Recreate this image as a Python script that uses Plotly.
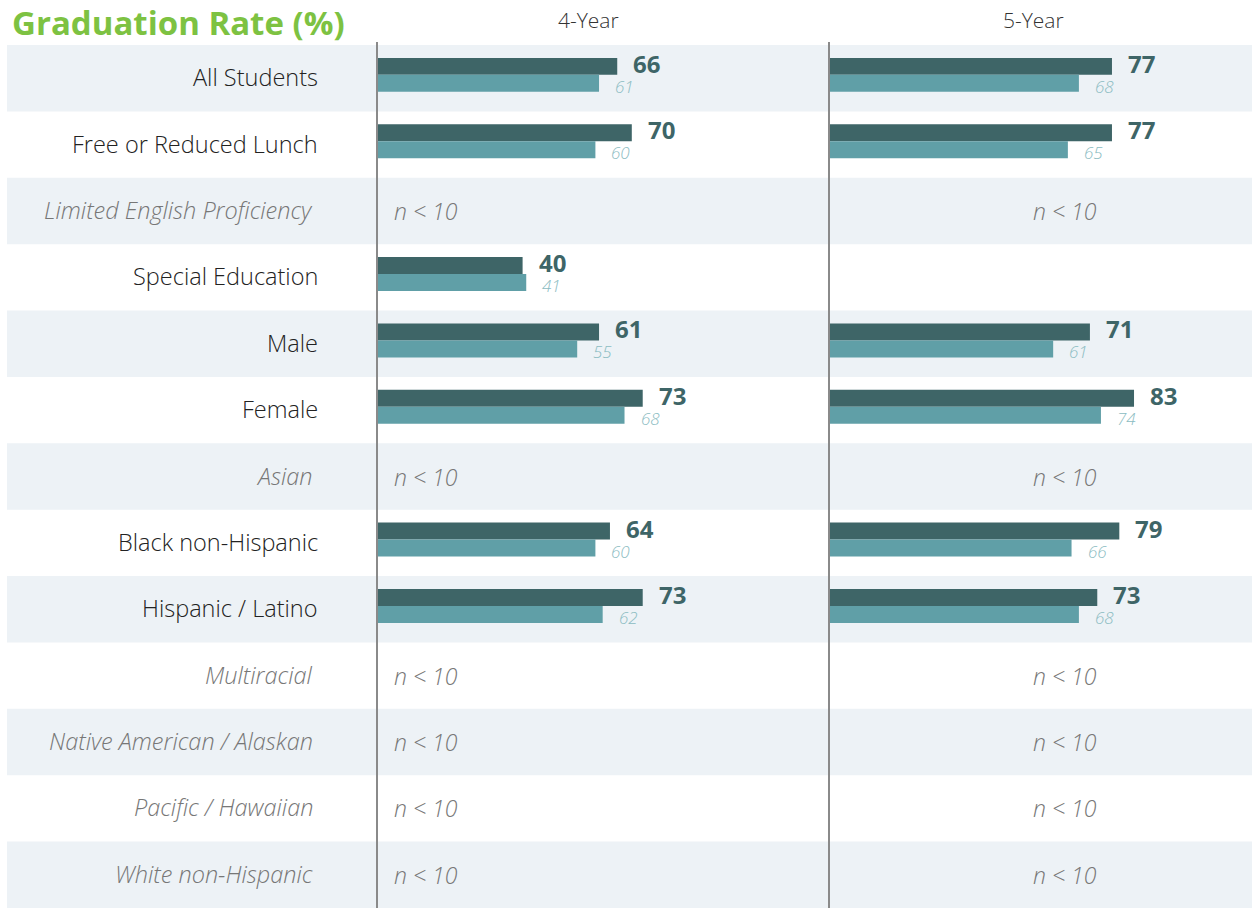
import plotly.graph_objects as go

# ---------------- data ----------------
categories = ["All Students", "Free or Reduced Lunch", "Limited English Proficiency",
              "Special Education", "Male", "Female", "Asian", "Black non-Hispanic",
              "Hispanic / Latino", "Multiracial", "Native American / Alaskan",
              "Pacific / Hawaiian", "White non-Hispanic"]
four_year_school = [66, 70, None, 40, 61, 73, None, 64, 73, None, None, None, None]
four_year_compare = [61, 60, None, 41, 55, 68, None, 60, 62, None, None, None, None]
five_year_school = [77, 77, None, None, 71, 83, None, 79, 73, None, None, None, None]
five_year_compare = [68, 65, None, None, 61, 74, None, 66, 68, None, None, None, None]
four_year_suppressed = [False, False, True, False, False, False, True, False, False, True, True, True, True]
five_year_suppressed = [False, False, True, False, False, False, True, False, False, True, True, True, True]
panel_titles = ["4-Year", "5-Year"]
chart_title = "Graduation Rate (%)"
suppressed_text = "n < 10"

# ---------------- styling ----------------
W, H = 1252, 910
FONT = "Open Sans"
DARK = "#3e6567"
LIGHT = "#609fa7"
LIGHT_TXT = "#8bbcc2"
BAND = "#edf2f6"
GREEN = "#7dc242"
GRAY_TXT = "#777777"
AXIS_LINE = "#8a8a8a"

rows = list(range(len(categories)))
bar_w = 0.256
dark_off = -0.306
light_off = -0.05
dark_c = dark_off + bar_w / 2
light_c = light_off + bar_w / 2

x1_dom = [377 / W, 829 / W]
x2_dom = [829 / W, 1.0]
x1_rng = [0, (829 - 377) / 3.64]
x2_rng = [0, (W - 829) / 3.675]

fig = go.Figure()

panels = [
    ("x", four_year_school, four_year_compare, four_year_suppressed, 15),
    ("x2", five_year_school, five_year_compare, five_year_suppressed, 202),
]

annotations = []
for axref, school, comp, supp, nshift in panels:
    fig.add_trace(go.Bar(orientation="h", x=school, y=rows, width=bar_w, offset=dark_off,
                         marker=dict(color=DARK, line=dict(width=0)),
                         xaxis=axref, yaxis="y", hoverinfo="skip"))
    fig.add_trace(go.Bar(orientation="h", x=comp, y=rows, width=bar_w, offset=light_off,
                         marker=dict(color=LIGHT, line=dict(width=0)),
                         xaxis=axref, yaxis="y", hoverinfo="skip"))
    for i in rows:
        if school[i] is not None:
            annotations.append(dict(x=school[i], y=i + dark_c, xref=axref, yref="y",
                                    text="<b>%s</b>" % school[i], showarrow=False, xanchor="left",
                                    yanchor="middle", xshift=14, yshift=3,
                                    font=dict(family=FONT, size=24, color=DARK)))
        if comp[i] is not None:
            annotations.append(dict(x=comp[i], y=i + light_c, xref=axref, yref="y",
                                    text="<i>%s</i>" % comp[i], showarrow=False, xanchor="left",
                                    yanchor="middle", xshift=14, yshift=-3,
                                    font=dict(family=FONT, size=17, color=LIGHT_TXT, weight=300)))
        if supp[i]:
            annotations.append(dict(x=0, y=i, xref=axref, yref="y",
                                    text="<i>%s</i>" % suppressed_text, showarrow=False,
                                    xanchor="left", yanchor="middle", xshift=nshift,
                                    font=dict(family=FONT, size=23, color=GRAY_TXT, weight=300)))

# category labels
for i, cat in enumerate(categories):
    if four_year_suppressed[i]:
        annotations.append(dict(x=315 / W, y=i, xref="paper", yref="y", text="<i>%s</i>" % cat,
                                showarrow=False, xanchor="right", yanchor="middle", yshift=1,
                                font=dict(family=FONT, size=23.5, color=GRAY_TXT, weight=300)))
    else:
        annotations.append(dict(x=320 / W, y=i, xref="paper", yref="y", text=cat,
                                showarrow=False, xanchor="right", yanchor="middle", yshift=1,
                                font=dict(family=FONT, size=23.5, color="#222222", weight=300)))

# title and panel headers
annotations.append(dict(x=10 / W, y=1 - 22 / H, xref="paper", yref="paper", text="<b>%s</b>" % chart_title,
                        showarrow=False, xanchor="left", yanchor="middle",
                        font=dict(family=FONT, size=33, color=GREEN)))
annotations.append(dict(x=588 / W, y=1 - 20 / H, xref="paper", yref="paper", text=panel_titles[0],
                        showarrow=False, xanchor="center", yanchor="middle",
                        font=dict(family=FONT, size=21, color="#333333", weight=300)))
annotations.append(dict(x=1033 / W, y=1 - 20 / H, xref="paper", yref="paper", text=panel_titles[1],
                        showarrow=False, xanchor="center", yanchor="middle",
                        font=dict(family=FONT, size=21, color="#333333", weight=300)))

shapes = []
for i in rows:
    if i % 2 == 0:
        shapes.append(dict(type="rect", xref="paper", yref="y", x0=7 / W, x1=1, y0=i - 0.5, y1=i + 0.5,
                           fillcolor=BAND, line=dict(width=0), layer="below"))
for xp in (377 / W, 829 / W):
    shapes.append(dict(type="line", xref="paper", yref="paper", x0=xp, x1=xp,
                       y0=1 - 42 / H, y1=2 / H, line=dict(color=AXIS_LINE, width=2), layer="above"))

fig.update_layout(
    width=W, height=H,
    margin=dict(l=0, r=0, t=0, b=0),
    paper_bgcolor="white", plot_bgcolor="rgba(0,0,0,0)",
    showlegend=False, barmode="overlay",
    xaxis=dict(domain=x1_dom, range=x1_rng, visible=False, fixedrange=True),
    xaxis2=dict(domain=x2_dom, range=x2_rng, visible=False, fixedrange=True, anchor="y"),
    yaxis=dict(domain=[2 / H, 1 - 45 / H], range=[len(categories) - 0.5, -0.5], visible=False,
               fixedrange=True),
    annotations=annotations, shapes=shapes,
    font=dict(family=FONT),
)

fig.write_html("out.html", config={"displayModeBar": False},
               post_script="document.body.style.margin='0';document.body.style.padding='0';")
